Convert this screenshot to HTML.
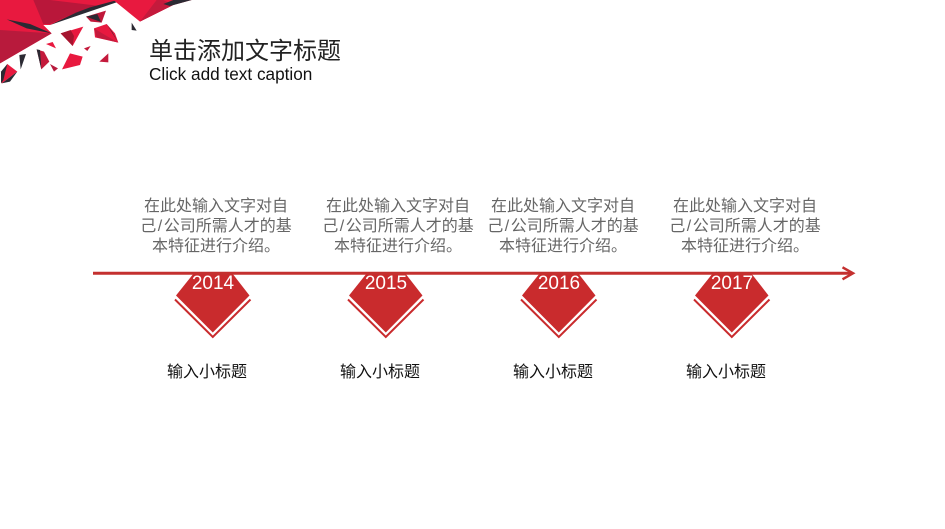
<!DOCTYPE html>
<html>
<head>
<meta charset="utf-8">
<style>
html,body{margin:0;padding:0;background:#fff}
#p{position:relative;width:945px;height:529px;overflow:hidden;background:#fff;font-family:"Liberation Sans","Noto Sans CJK SC",sans-serif}
svg{position:absolute;left:0;top:0}
.t{position:absolute;white-space:nowrap}
.d{width:170px;text-align:center;font-size:16px;line-height:20px;color:#666;top:196.500px}
.d i{font-style:normal;margin:0 1.500px}
.s{width:120px;text-align:center;font-size:16px;line-height:20px;color:#111;top:362.500px}
.y{width:80px;text-align:center;font-size:19px;line-height:22px;color:#fff;top:273px;font-family:"Liberation Sans",sans-serif}
</style>
</head>
<body>
<div id="p">
<svg width="945" height="529" viewBox="0 0 945 529">
  <g transform="scale(0.3333)">
    <polygon points="0,0 370,0 300,18 150,75 130,75 155,100 0,190" fill="#e8193f"/>
    <polygon points="100,0 150,0 300,18 228,38 150,72 130,72" fill="#b9173a"/>
    <polygon points="0,90 155,100 0,190" fill="#b81a3c"/>
    <polygon points="20,58 90,72 155,100 80,85" fill="#2b2a33"/>
    <polygon points="150,75 228,38 270,22 345,2 370,0 300,24" fill="#2b2a33"/>
    <polygon points="340,0 575,0 520,15 420,65" fill="#e8193f"/>
    <polygon points="420,65 520,15 490,0 470,0" fill="#c41a3c"/>
    <polygon points="510,18 575,0 520,0 490,12" fill="#2b2a33"/>
    <polygon points="258,50 318,32 305,68 272,65" fill="#c0183a"/>
    <polygon points="258,50 292,42 303,66" fill="#2b2a33"/>
    <polygon points="182,100 250,80 218,138" fill="#e8193f"/>
    <polygon points="182,100 212,90 222,108 218,138" fill="#a5152f"/>
    <polygon points="282,85 320,72 345,100 355,128 285,112" fill="#e8193f"/>
    <polygon points="282,85 290,112 355,128 320,108" fill="#c41a3c"/>
    <polygon points="320,72 355,128 338,98" fill="#2b2a33"/>
    <polygon points="395,68 410,92 395,90" fill="#2b2a33"/>
    <polygon points="138,132 158,126 168,145" fill="#e8193f"/>
    <polygon points="110,148 132,155 148,185 124,208" fill="#c41a3c"/>
    <polygon points="110,148 120,150 124,208" fill="#2b2a33"/>
    <polygon points="210,160 248,170 240,195 186,208" fill="#e8193f"/>
    <polygon points="252,145 272,138 262,153" fill="#c41a3c"/>
    <polygon points="298,185 325,160 325,187" fill="#c41a3c"/>
    <polygon points="150,192 174,205 162,215" fill="#b81a3c"/>
    <polygon points="58,165 78,162 62,208" fill="#2b2a33"/>
    <polygon points="5,215 22,192 52,215 5,250" fill="#e8193f"/>
    <polygon points="3,215 22,192 10,240 3,250" fill="#2b2a33"/>
    <polygon points="5,250 52,215 30,245" fill="#2b2a33"/>
  </g>

  <g>
    <polygon points="194,273 232,273 249.500,295.500 212.800,332.500 176,295.500" fill="#c92b2d"/>
    <polyline points="175,299.500 212.800,337 250.500,299.500" fill="none" stroke="#c92b2d" stroke-width="2"/>
  </g>
  <g transform="translate(173,0)">
    <polygon points="194,273 232,273 249.500,295.500 212.800,332.500 176,295.500" fill="#c92b2d"/>
    <polyline points="175,299.500 212.800,337 250.500,299.500" fill="none" stroke="#c92b2d" stroke-width="2"/>
  </g>
  <g transform="translate(346,0)">
    <polygon points="194,273 232,273 249.500,295.500 212.800,332.500 176,295.500" fill="#c92b2d"/>
    <polyline points="175,299.500 212.800,337 250.500,299.500" fill="none" stroke="#c92b2d" stroke-width="2"/>
  </g>
  <g transform="translate(519,0)">
    <polygon points="194,273 232,273 249.500,295.500 212.800,332.500 176,295.500" fill="#c92b2d"/>
    <polyline points="175,299.500 212.800,337 250.500,299.500" fill="none" stroke="#c92b2d" stroke-width="2"/>
  </g>
  <line x1="93" y1="273.300" x2="852" y2="273.300" stroke="#c4302f" stroke-width="3"/>
  <polyline points="842.500,267.300 853,273.300 842.500,279.300" fill="none" stroke="#c4302f" stroke-width="2.500"/>
</svg>

<div class="t" style="left:149px;top:37px;font-size:24px;line-height:30px;color:#222">单击添加文字标题</div>
<div class="t" style="left:149px;top:63px;font-size:17.200px;line-height:22px;color:#111">Click add text caption</div>

<div class="t d" style="left:131px">在此处输入文字对自<br>己<i>/</i>公司所需人才的基<br>本特征进行介绍。</div>
<div class="t d" style="left:313px">在此处输入文字对自<br>己<i>/</i>公司所需人才的基<br>本特征进行介绍。</div>
<div class="t d" style="left:478px">在此处输入文字对自<br>己<i>/</i>公司所需人才的基<br>本特征进行介绍。</div>
<div class="t d" style="left:660px">在此处输入文字对自<br>己<i>/</i>公司所需人才的基<br>本特征进行介绍。</div>

<div class="t y" style="left:173px">2014</div>
<div class="t y" style="left:346px">2015</div>
<div class="t y" style="left:519px">2016</div>
<div class="t y" style="left:692px">2017</div>

<div class="t s" style="left:147px">输入小标题</div>
<div class="t s" style="left:320px">输入小标题</div>
<div class="t s" style="left:493px">输入小标题</div>
<div class="t s" style="left:666px">输入小标题</div>
</div>
</body>
</html>
